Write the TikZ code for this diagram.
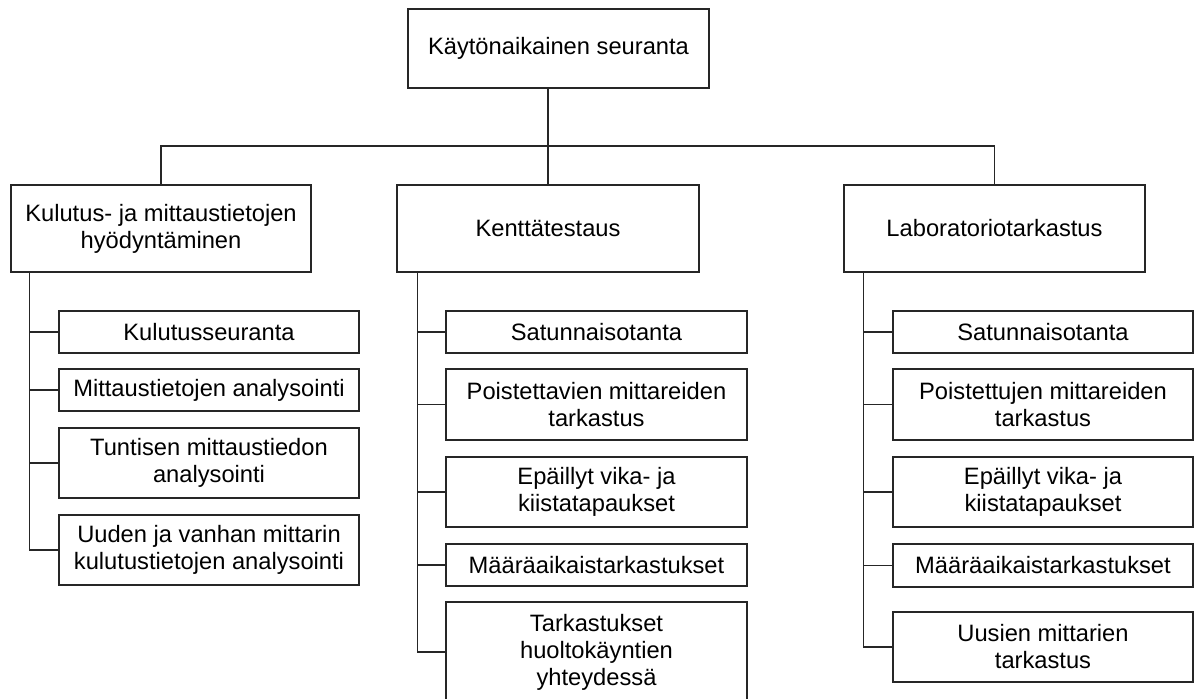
\documentclass[tikz,border=0pt]{standalone}
\usepackage{fontspec}
\setmainfont{Liberation Sans}
\tikzset{
  laatikko/.style={draw=black!85, line width=1.2pt, fill=white, align=center,
    inner sep=0pt, font=\fontsize{23.7}{27}\selectfont},
  viiva/.style={draw=black!85, line width=1.2pt}
}

\begin{document}
\begin{tikzpicture}[x=1pt,y=-1pt]
        % Step 1: Fix the frame of the picture
        \useasboundingbox (0,0) rectangle (1198,698);
        \clip (0,0) rectangle (1198,698);
        \fill[white] (0,0) rectangle (1198,698);

        % Step 2: Root box
        \node[laatikko, minimum width=301pt, minimum height=79pt] (T) at (558.5,48.5) {Käytönaikainen seuranta};

        % Step 3: The three main branches
        \node[laatikko, minimum width=300pt, minimum height=87pt] (A) at (161,228.5) {Kulutus- ja mittaustietojen\\hyödyntäminen};
        \node[laatikko, minimum width=302pt, minimum height=87pt] (B) at (548,228.5) {Kenttätestaus};
        \node[laatikko, minimum width=301pt, minimum height=87pt] (C) at (994.5,228.5) {Laboratoriotarkastus};

        % Step 4: Children of branch A
        \node[laatikko, minimum width=300pt, minimum height=42pt] (A1) at (209,332) {Kulutusseuranta};
        \node[laatikko, minimum width=300pt, minimum height=42pt] (A2) at (209,390) {Mittaustietojen analysointi};
        \node[laatikko, minimum width=300pt, minimum height=70pt] (A3) at (209,463) {Tuntisen mittaustiedon\\analysointi};
        \node[laatikko, minimum width=300pt, minimum height=70pt] (A4) at (209,550) {Uuden ja vanhan mittarin\\kulutustietojen analysointi};

        % Step 5: Children of branch B
        \node[laatikko, minimum width=301pt, minimum height=42pt] (B1) at (596.5,332) {Satunnaisotanta};
        \node[laatikko, minimum width=301pt, minimum height=71pt] (B2) at (596.5,404.5) {Poistettavien mittareiden\\tarkastus};
        \node[laatikko, minimum width=301pt, minimum height=70pt] (B3) at (596.5,492) {Epäillyt vika- ja\\kiistatapaukset};
        \node[laatikko, minimum width=301pt, minimum height=42pt] (B4) at (596.5,565) {Määräaikaistarkastukset};
        \node[laatikko, minimum width=301pt, minimum height=100pt] (B5) at (596.5,652) {Tarkastukset\\huoltokäyntien\\yhteydessä};

        % Step 6: Children of branch C
        \node[laatikko, minimum width=300pt, minimum height=42pt] (C1) at (1043,332) {Satunnaisotanta};
        \node[laatikko, minimum width=300pt, minimum height=71pt] (C2) at (1043,404.5) {Poistettujen mittareiden\\tarkastus};
        \node[laatikko, minimum width=300pt, minimum height=70pt] (C3) at (1043,492) {Epäillyt vika- ja\\kiistatapaukset};
        \node[laatikko, minimum width=300pt, minimum height=43pt] (C4) at (1043,565.5) {Määräaikaistarkastukset};
        \node[laatikko, minimum width=300pt, minimum height=70pt] (C5) at (1043,647) {Uusien mittarien\\tarkastus};

        % Step 7: Root to branches
        \coordinate (palkki) at (0,146);
        \draw[viiva] (T.south -| B.north) -- (B.north);
        \draw[viiva] (A.north) |- (C.north |- palkki) -- (C.north);

        % Step 8: Trunks down the left side of each branch
        \coordinate (At) at ([xshift=19pt]A.south west);
        \coordinate (Bt) at ([xshift=21pt]B.south west);
        \coordinate (Ct) at ([xshift=20pt]C.south west);
        \foreach \l in {A1,A2,A3,A4} \draw[viiva] (At) |- (\l.west);
        \foreach \l in {B1,B2,B3,B4,B5} \draw[viiva] (Bt) |- (\l.west);
        \foreach \l in {C1,C2,C3,C4,C5} \draw[viiva] (Ct) |- (\l.west);
\end{tikzpicture}
\end{document}
